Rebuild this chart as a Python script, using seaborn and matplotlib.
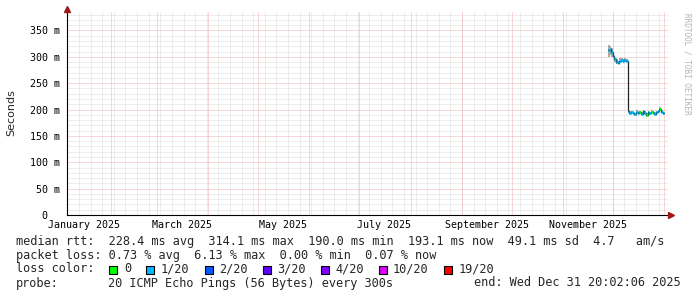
import numpy as np
import pandas as pd
import matplotlib
matplotlib.use("Agg")
import matplotlib.pyplot as plt
import matplotlib.dates as mdates
from matplotlib.patches import Rectangle
import seaborn as sns

# ---------------- data ----------------
first_day = "2025-11-28"
median_ms = [312, 314, 309, 302, 295, 291, 289, 293, 294, 292, 294, 293,
             197, 194, 195, 193, 191, 196, 193, 195, 192, 197, 194, 190,
             195, 193, 196, 194, 192, 195, 197, 201, 196, 193]
smoke_hi = [322, 320, 316, 306, 298, 295, 293, 297, 298, 296, 297, 296,
            200, 197, 198, 196, 194, 199, 196, 198, 195, 200, 197, 193,
            198, 196, 199, 197, 195, 198, 200, 204, 199, 196]
smoke_lo = [300, 304, 300, 297, 291, 287, 286, 290, 291, 289, 291, 290,
            194, 191, 192, 190, 188, 193, 190, 192, 189, 194, 191, 187,
            192, 190, 193, 191, 189, 192, 194, 198, 193, 190]
loss_count = [1, 1, 1, 1, 1, 1, 1, 1, 1, 1, 1, 1,
              1, 1, 1, 1, 1, 1, 1, 0, 1, 1, 1, 0,
              1, 1, 0, 1, 1, 1, 1, 0, 1, 1]

loss_levels = ["0", "1/20", "2/20", "3/20", "4/20", "10/20", "19/20"]
loss_level_count = [0, 1, 2, 3, 4, 10, 19]
loss_colors = ["#00ff00", "#00b8ff", "#0059ff", "#5e00ff", "#7e00ff", "#dd00ff", "#ff0000"]

month_label_dates = ["2025-01-16", "2025-03-16", "2025-05-16", "2025-07-16",
                     "2025-09-16", "2025-11-16"]
month_labels = ["January 2025", "March 2025", "May 2025", "July 2025",
                "September 2025", "November 2025"]
ytick_vals = [0, 50, 100, 150, 200, 250, 300, 350]
ytick_labels = ["0  ", "50 m", "100 m", "150 m", "200 m", "250 m", "300 m", "350 m"]

x_start = "2025-01-05 17:00"
x_end = "2026-01-03 07:00"
y_max = 385

line_rtt = ("median rtt:  228.4 ms avg  314.1 ms max  190.0 ms min  "
            "193.1 ms now  49.1 ms sd  4.7   am/s")
line_loss = "packet loss: 0.73 % avg  6.13 % max  0.00 % min  0.07 % now"
probe_text = "20 ICMP Echo Pings (56 Bytes) every 300s"
end_text = "end: Wed Dec 31 20:02:06 2025"

# ---------------- style ----------------
sns.set_theme(style="white")
plt.rcParams["font.family"] = ["DejaVu Sans Mono", "DejaVu Sans"]
MONO = "DejaVu Sans Mono"

W, H = 697, 297
fig = plt.figure(figsize=(W / 100, H / 100), dpi=100, facecolor="white")
ax = fig.add_axes([67 / W, (H - 215) / H, 601 / W, 203 / H])
ax.set_facecolor("white")

def fx(px):
    return px / W

def fy(py):
    return 1 - py / H

dates = pd.date_range(first_day, periods=len(median_ms), freq="D")
xs = mdates.date2num(dates.to_pydatetime())
xe = xs + 1.0
x_ext = np.append(xs, xe[-1])

xmin = mdates.date2num(pd.Timestamp(x_start).to_pydatetime())
xmax = mdates.date2num(pd.Timestamp(x_end).to_pydatetime())

# ---------------- grid ----------------
minor_col = "#dcdcdc"
major_col = "#f0b0b0"
dots = (0, (1, 1))
gkw = dict(lw=0.72, ls=dots)
for v in range(10, y_max, 10):
    if v % 50:
        ax.axhline(v, color=minor_col, zorder=0, **gkw)
for d in pd.date_range("2024-12-30", "2026-01-10", freq="7D"):
    ax.axvline(mdates.date2num(d.to_pydatetime()), color=minor_col, zorder=0, **gkw)
for v in ytick_vals[1:]:
    ax.axhline(v, color=major_col, zorder=0.5, **gkw)
for d in pd.date_range("2025-01-01", "2026-01-01", freq="MS"):
    ax.axvline(mdates.date2num(d.to_pydatetime()), color=major_col, zorder=0.5, **gkw)

# ---------------- data marks ----------------
hi_ext = np.append(smoke_hi, smoke_hi[-1])
lo_ext = np.append(smoke_lo, smoke_lo[-1])
ax.fill_between(x_ext, lo_ext, hi_ext, step="post", color="#a8a8a8", lw=0, zorder=2)

med_ext = np.append(median_ms, median_ms[-1])
sns.lineplot(x=x_ext, y=med_ext, drawstyle="steps-post", color="#202020",
             lw=0.9, ax=ax, zorder=3, sort=False, estimator=None)

col_map = dict(zip(loss_level_count, loss_colors))
seg_cols = [col_map[c] for c in loss_count]
ax.hlines(median_ms, xs, xe, colors=seg_cols, lw=2.0, zorder=4)

# ---------------- axes ----------------
ax.set_xlim(xmin, xmax)
ax.set_ylim(0, y_max)
ax.set_xticks(mdates.date2num(pd.to_datetime(month_label_dates).to_pydatetime()))
ax.set_xticklabels(month_labels, fontsize=7.2, family=MONO)
ax.set_yticks(ytick_vals)
ax.set_yticklabels(ytick_labels, fontsize=7.2, family=MONO)
ax.tick_params(axis="x", length=0, pad=3.5, colors="black")
ax.tick_params(axis="y", length=0, pad=5, colors="black")
for s in ["top", "right"]:
    ax.spines[s].set_visible(False)
for s in ["left", "bottom"]:
    ax.spines[s].set_color("black")
    ax.spines[s].set_linewidth(0.8)
ax.set_xlabel("")
ax.set_ylabel("")

arrow_col = "#a01818"
ax.plot([1 + 3 / 601], [0], marker=">", ms=4, color=arrow_col,
        transform=ax.transAxes, clip_on=False, zorder=6)
ax.plot([0], [1 + 3 / 203], marker="^", ms=4, color=arrow_col,
        transform=ax.transAxes, clip_on=False, zorder=6)

fig.text(fx(11), fy(113), "Seconds", rotation=90, ha="center", va="center",
         fontsize=8, family="DejaVu Sans")
fig.text(fx(687), fy(64), "RRDTOOL / TOBI OETIKER", rotation=270, ha="center",
         va="center", fontsize=5.5, family=MONO, color="#b4b4b4")

# ---------------- legend ----------------
LS = 8.55
fig.text(fx(16), fy(241), line_rtt, ha="left", va="center", fontsize=LS, family=MONO)
fig.text(fx(16), fy(255), line_loss, ha="left", va="center", fontsize=LS, family=MONO)
fig.text(fx(16), fy(269), "loss color:", ha="left", va="center", fontsize=LS, family=MONO)
box_x = [108.5, 146, 204.5, 262.5, 321, 379, 444]
lab_x = [124, 161, 219, 277, 335, 393, 458.5]
for bx, lx, lab, c in zip(box_x, lab_x, loss_levels, loss_colors):
    fig.patches.append(Rectangle((fx(bx), fy(273.5)), 8 / W, 8 / H, transform=fig.transFigure,
                                 facecolor=c, edgecolor="black", lw=0.8))
    fig.text(fx(lx), fy(269), lab, ha="left", va="center", fontsize=LS, family=MONO)
fig.text(fx(16), fy(283), "probe:", ha="left", va="center", fontsize=LS, family=MONO)
fig.text(fx(107.6), fy(283), probe_text, ha="left", va="center", fontsize=LS, family=MONO)
fig.text(fx(681), fy(283), end_text, ha="right", va="center", fontsize=LS, family=MONO)

fig.savefig("out.png", dpi=100, facecolor="white")
